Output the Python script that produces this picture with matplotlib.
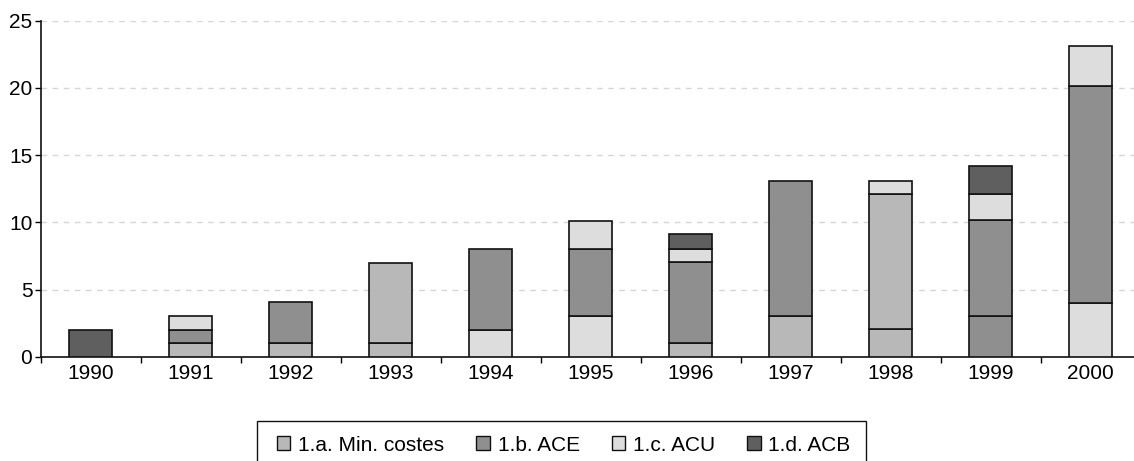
import matplotlib
matplotlib.use("Agg")
import matplotlib.pyplot as plt
from matplotlib.patches import Patch, Rectangle

plt.rcParams["font.family"] = ["Liberation Sans", "DejaVu Sans"]

years = ["1990", "1991", "1992", "1993", "1994", "1995",
         "1996", "1997", "1998", "1999", "2000"]

# stacked pieces per year, bottom to top, and the category of each piece
seg_values = [
    [2.0],
    [1.0, 1.0, 1.0],
    [1.0, 3.05],
    [1.0, 6.0],
    [2.0, 6.05],
    [3.0, 5.05, 2.05],
    [1.0, 6.05, 0.95, 1.15],
    [3.0, 10.1],
    [2.05, 10.05, 1.0],
    [3.0, 7.15, 1.95, 2.1],
    [4.0, 16.15, 2.95],
]
seg_cats = [
    ["d"],
    ["a", "b", "c"],
    ["a", "b"],
    ["a", "a"],
    ["c", "b"],
    ["c", "b", "c"],
    ["a", "b", "c", "d"],
    ["a", "b"],
    ["a", "a", "c"],
    ["b", "b", "c", "d"],
    ["c", "b", "c"],
]

categories = ["a", "b", "c", "d"]
labels = ["1.a. Min. costes", "1.b. ACE", "1.c. ACU", "1.d. ACB"]
colors = {"a": "#b8b8b8", "b": "#8f8f8f", "c": "#dddddd", "d": "#5f5f5f"}

W, H = 1134, 461
fig = plt.figure(figsize=(W / 100, H / 100), dpi=100)
ax = fig.add_axes([40.7 / W, 104.3 / H, 1100 / W, 336 / H])

edge = "#111111"
for i, (vals, cats) in enumerate(zip(seg_values, seg_cats)):
    bottom = 0
    for v, c in zip(vals, cats):
        ax.bar(i, v, bottom=bottom, width=0.43, color=colors[c],
               edgecolor=edge, linewidth=1.2, zorder=3)
        bottom += v

ax.set_xlim(-0.5, len(years) - 0.5)
ax.set_ylim(0, 25)
ax.set_yticks([0, 5, 10, 15, 20, 25])
ax.yaxis.grid(True, linestyle=(0, (4, 4)), color="#d6d6d6", linewidth=1, zorder=0)

# ticks between categories, labels centred under bars
ax.set_xticks([i - 0.5 for i in range(len(years) + 1)])
ax.set_xticklabels([])
ax.set_xticks(range(len(years)), minor=True)
ax.set_xticklabels(years, minor=True)
ax.tick_params(axis="x", which="major", length=4, width=1, direction="out")
ax.tick_params(axis="x", which="minor", length=0, pad=5, labelsize=15)
ax.tick_params(axis="y", length=4, width=1, pad=2, labelsize=15)

for s in ["top", "right"]:
    ax.spines[s].set_visible(False)
for s in ["left", "bottom"]:
    ax.spines[s].set_color("#111111")
    ax.spines[s].set_linewidth(1.2)

# legend box runs off the bottom of the image
fig.add_artist(Rectangle((256.7 / W, -0.05), (866 - 256.7) / W, 0.05 + (H - 421) / H,
                         transform=fig.transFigure, facecolor="white",
                         edgecolor="#111111", linewidth=1.0))
handles = [Patch(facecolor=colors[c], edgecolor=edge, linewidth=1) for c in categories]
leg = fig.legend(handles, labels, loc="center left",
                 bbox_to_anchor=(277 / W, 1 - 445 / H),
                 ncol=4, frameon=False, fontsize=15,
                 handlelength=0.63, handleheight=0.63, handletextpad=0.38,
                 columnspacing=1.55, borderpad=0, borderaxespad=0)

fig.savefig("out.png", dpi=100)
